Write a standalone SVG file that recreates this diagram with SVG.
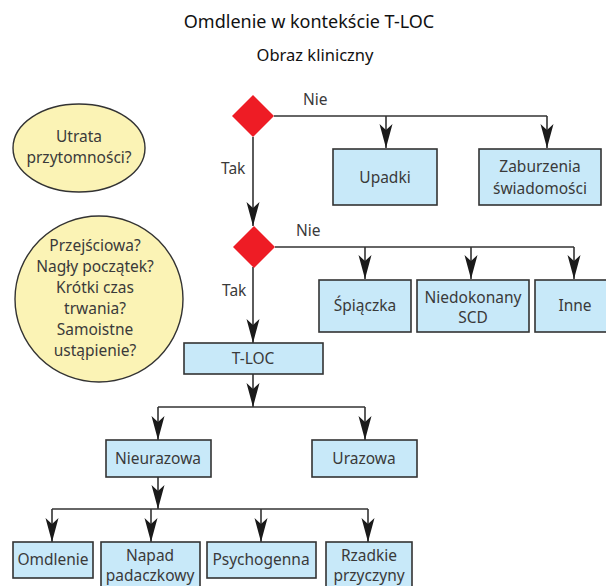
<svg xmlns="http://www.w3.org/2000/svg" width="606" height="586" viewBox="0 0 606 586">
<style>
.t{font-family:"Noto Sans","Open Sans",sans-serif;font-size:15.5px;fill:#3a3a3a;text-anchor:middle}
.lbl{font-family:"Noto Sans","Open Sans",sans-serif;font-size:15.5px;fill:#3a3a3a}
.box{fill:#c8e9f9;stroke:#333;stroke-width:1.6}
.ell{fill:#fbf3b5;stroke:#333;stroke-width:1.4}
.dia{fill:#ee1c25}
.ln{fill:none;stroke:#333;stroke-width:1.6}
</style>
<defs>
<marker id="ah" markerUnits="userSpaceOnUse" markerWidth="26" markerHeight="16" viewBox="-25 -8 26 16" refX="0" refY="0" orient="auto">
<path d="M0,0 L-24,-6.5 L-18,0 L-24,6.5 Z" fill="#1a1a1a"/>
</marker>
</defs>
<rect width="606" height="586" fill="#fff"/>
<text x="309" y="28" style="font-family:'Noto Sans','Open Sans',sans-serif;font-size:18px;fill:#111;text-anchor:middle">Omdlenie w kontekście T-LOC</text>
<text x="315" y="61" style="font-family:'Noto Sans','Open Sans',sans-serif;font-size:16.5px;fill:#111;text-anchor:middle">Obraz kliniczny</text>

<g id="connectors">
<path class="ln" d="M274,116 H547"/>
<path class="ln" d="M386,116 V148" marker-end="url(#ah)"/>
<path class="ln" d="M547,116 V148" marker-end="url(#ah)"/>
<path class="ln" d="M253,137 V226" marker-end="url(#ah)"/>
<path class="ln" d="M275,247 H574"/>
<path class="ln" d="M365,247 V279" marker-end="url(#ah)"/>
<path class="ln" d="M471,247 V279" marker-end="url(#ah)"/>
<path class="ln" d="M574,247 V279" marker-end="url(#ah)"/>
<path class="ln" d="M253,267 V343" marker-end="url(#ah)"/>
<path class="ln" d="M253,374 V407" marker-end="url(#ah)"/>
<path class="ln" d="M158,407 H365"/>
<path class="ln" d="M158,407 V440" marker-end="url(#ah)"/>
<path class="ln" d="M365,407 V440" marker-end="url(#ah)"/>
<path class="ln" d="M158,477 V509" marker-end="url(#ah)"/>
<path class="ln" d="M52,509 H368"/>
<path class="ln" d="M52,509 V542" marker-end="url(#ah)"/>
<path class="ln" d="M151,509 V542" marker-end="url(#ah)"/>
<path class="ln" d="M261,509 V542" marker-end="url(#ah)"/>
<path class="ln" d="M368,509 V542" marker-end="url(#ah)"/>
<text class="lbl" x="303" y="105">Nie</text>
<text class="lbl" x="296" y="236">Nie</text>
<text class="lbl" x="221" y="174">Tak</text>
<text class="lbl" x="222" y="296">Tak</text>
</g>

<g id="q1"><ellipse class="ell" cx="79" cy="148" rx="66" ry="44"/>
<text class="t" x="79" y="142">Utrata</text><text class="t" x="79" y="163">przytomności?</text></g>

<g id="q2"><ellipse class="ell" cx="99" cy="299" rx="84" ry="83"/>
<text class="t" x="95" y="251">Przejściowa?</text>
<text class="t" x="95" y="272">Nagły początek?</text>
<text class="t" x="95" y="293">Krótki czas</text>
<text class="t" x="95" y="314">trwania?</text>
<text class="t" x="95" y="335">Samoistne</text>
<text class="t" x="95" y="356">ustąpienie?</text></g>

<g id="d1"><path class="dia" d="M253,95 L274,116 L253,137 L232,116 Z"/></g>
<g id="d2"><path class="dia" d="M254,226 L275,247 L254,268 L233,247 Z"/></g>

<g id="upadki"><rect class="box" x="333" y="149" width="104" height="56"/><text class="t" x="385" y="183">Upadki</text></g>
<g id="zaburzenia"><rect class="box" x="479" y="149" width="122" height="56"/><text class="t" x="540" y="172">Zaburzenia</text><text class="t" x="540" y="194">świadomości</text></g>

<g id="spiaczka"><rect class="box" x="319" y="280" width="92" height="52"/><text class="t" x="365" y="311">Śpiączka</text></g>
<g id="scd"><rect class="box" x="417" y="280" width="112" height="52"/><text class="t" x="473" y="303">Niedokonany</text><text class="t" x="473" y="323">SCD</text></g>
<g id="inne"><rect class="box" x="535" y="280" width="73" height="52"/><text class="t" x="575" y="311">Inne</text></g>

<g id="tloc"><rect class="box" x="184" y="343" width="139" height="31"/><text class="t" x="253" y="364">T-LOC</text></g>

<g id="nieurazowa"><rect class="box" x="106" y="440" width="105" height="37"/><text class="t" x="158" y="464">Nieurazowa</text></g>
<g id="urazowa"><rect class="box" x="312" y="440" width="105" height="37"/><text class="t" x="364" y="464">Urazowa</text></g>

<g id="omdlenie"><rect class="box" x="13" y="542" width="80" height="36"/><text class="t" x="53" y="565">Omdlenie</text></g>
<g id="napad"><rect class="box" x="101" y="542" width="99" height="50"/><text class="t" x="150" y="561">Napad</text><text class="t" x="150" y="581">padaczkowy</text></g>
<g id="psychogenna"><rect class="box" x="207" y="542" width="109" height="36"/><text class="t" x="261" y="565">Psychogenna</text></g>
<g id="rzadkie"><rect class="box" x="326" y="542" width="86" height="50"/><text class="t" x="369" y="561">Rzadkie</text><text class="t" x="369" y="581">przyczyny</text></g>
</svg>
